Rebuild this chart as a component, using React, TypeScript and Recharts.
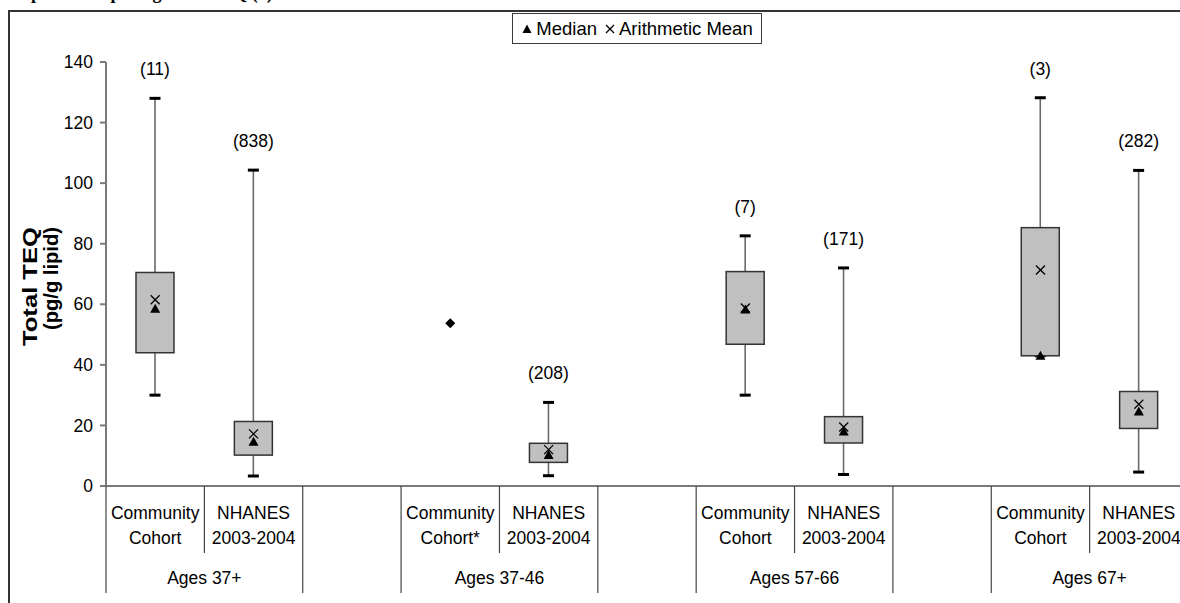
import React from 'react';
import { ComposedChart, Bar, Scatter, XAxis, YAxis, LabelList, Legend, Label } from 'recharts';

const FONT = 'Arial, "Liberation Sans", Helvetica, sans-serif';

// ---- data ----
const categories = [
  'Community\nCohort', 'NHANES\n2003-2004', '',
  'Community\nCohort*', 'NHANES\n2003-2004', '',
  'Community\nCohort', 'NHANES\n2003-2004', '',
  'Community\nCohort', 'NHANES\n2003-2004',
];
const groups = [
  'Ages 37+', 'Ages 37+', '',
  'Ages 37-46', 'Ages 37-46', '',
  'Ages 57-66', 'Ages 57-66', '',
  'Ages 67+', 'Ages 67+',
];
const minValues = [30, 3.3, null, null, 3.4, null, 30, 3.8, null, 43, 4.6];
const q1Values = [44, 10.2, null, null, 7.8, null, 46.8, 14.2, null, 43, 19];
const medianValues = [58.5, 14.6, null, null, 10.2, null, 58.3, 18, null, 43, 24.6];
const meanValues = [61.5, 17.2, null, null, 12, null, 58.8, 19.5, null, 71.3, 27];
const q3Values = [70.5, 21.3, null, null, 14.1, null, 70.8, 22.9, null, 85.3, 31.2];
const maxValues = [128, 104.3, null, null, 27.6, null, 82.6, 72, null, 128.2, 104.2];
const singleValues = [null, null, null, 53.7, null, null, null, null, null, null, null];
const sampleSizes = ['(11)', '(838)', '', '', '(208)', '', '(7)', '(171)', '', '(3)', '(282)'];
const yTicks = [0, 20, 40, 60, 80, 100, 120, 140];
const legendOrder = ['Median', 'Arithmetic Mean'];

const data = categories.map((label, i) => ({
  label,
  group: groups[i],
  min: minValues[i],
  q1: q1Values[i],
  median: medianValues[i],
  mean: meanValues[i],
  q3: q3Values[i],
  max: maxValues[i],
  single: singleValues[i],
  n: sampleSizes[i],
}));

const whiskerRange = (d: any) => (d.min == null ? null : [d.min, d.max]);
const boxRange = (d: any) => (d.q1 == null ? null : [d.q1, d.q3]);

const ok = (v: any) => typeof v === 'number' && isFinite(v);

const WhiskerShape = (props: any) => {
  const { x, y, width, height, payload } = props;
  if (!payload || payload.min == null || !ok(x) || !ok(y) || !ok(height)) return <g />;
  const cx = x + width / 2;
  const top = Math.min(y, y + height);
  const bottom = Math.max(y, y + height);
  return (
    <g>
      <line x1={cx} x2={cx} y1={top} y2={bottom} stroke="#6a6a6a" strokeWidth={1.6} />
      <rect x={cx - 5.5} y={top - 1.5} width={11} height={3} fill="#000" />
      <rect x={cx - 5.5} y={bottom - 1.5} width={11} height={3} fill="#000" />
    </g>
  );
};

const BoxShape = (props: any) => {
  const { x, y, width, height, payload } = props;
  if (!payload || payload.q1 == null || !ok(x) || !ok(y) || !ok(height)) return <g />;
  const top = Math.min(y, y + height);
  const h = Math.abs(height);
  return <rect x={x} y={top} width={width} height={h} fill="#c0c0c0" stroke="#333" strokeWidth={1.5} />;
};

const MedianShape = (props: any) => {
  const { cx, cy, payload } = props;
  if (!payload || payload.median == null || !ok(cx) || !ok(cy)) return <g />;
  return <polygon points={`${cx},${cy - 5} ${cx + 5},${cy + 4} ${cx - 5},${cy + 4}`} fill="#000" />;
};

const MeanShape = (props: any) => {
  const { cx, cy, payload } = props;
  if (!payload || payload.mean == null || !ok(cx) || !ok(cy)) return <g />;
  const s = 4.5;
  return (
    <g stroke="#000" strokeWidth={1.3}>
      <line x1={cx - s} y1={cy - s} x2={cx + s} y2={cy + s} />
      <line x1={cx - s} y1={cy + s} x2={cx + s} y2={cy - s} />
    </g>
  );
};

const DiamondShape = (props: any) => {
  const { cx, cy, payload } = props;
  if (!payload || payload.single == null || !ok(cx) || !ok(cy)) return <g />;
  return <polygon points={`${cx},${cy - 5} ${cx + 5},${cy} ${cx},${cy + 5} ${cx - 5},${cy}`} fill="#000" />;
};

const CategoryTick = (props: any) => {
  const { x, y, payload, width } = props;
  const i = payload.index ?? props.index;
  const half = ok(payload.offset) && payload.offset > 0 ? payload.offset : width / categories.length / 2;
  const lines = (categories[i] || '').split('\n').filter((t) => t !== '');
  const left = x - half;
  const right = x + half;
  const sameAsPrev = i > 0 && groups[i] !== '' && groups[i] === groups[i - 1];
  const isLast = i === categories.length - 1;
  const isGroupStart = groups[i] !== '' && (i === 0 || groups[i - 1] !== groups[i]);
  let span = 0;
  if (isGroupStart) {
    let j = i;
    while (j < groups.length && groups[j] === groups[i]) { span++; j++; }
  }
  const lineColor = '#444';
  return (
    <g>
      <line x1={left} x2={left} y1={y} y2={y + (sameAsPrev ? 67 : 107)} stroke={lineColor} strokeWidth={1.2} />
      {isLast && <line x1={right} x2={right} y1={y} y2={y + 107} stroke={lineColor} strokeWidth={1.2} />}
      {lines.map((t, k) => (
        <text key={k} x={x} y={y + 27 + 25 * k} dy="0.35em" textAnchor="middle" fill="#000" fontSize={17.5} fontFamily={FONT}>
          {t}
        </text>
      ))}
      {isGroupStart && (
        <text x={left + span * half} y={y + 92} dy="0.35em" textAnchor="middle" fill="#000" fontSize={17.5} fontFamily={FONT}>
          {groups[i]}
        </text>
      )}
    </g>
  );
};

const YLabel = (props: any) => {
  const vb = props.viewBox || { x: 46, y: 62 };
  const endY = vb.y + 165;
  const x1 = vb.x - 9;
  const x2 = vb.x + 12;
  return (
    <g fontFamily={FONT} fontWeight="bold" fontSize={20} fill="#000">
      <text x={x1} y={endY} transform={`rotate(-90 ${x1} ${endY})`} textAnchor="end" textLength={119} lengthAdjust="spacingAndGlyphs">
        Total TEQ
      </text>
      <text x={x2} y={endY} transform={`rotate(-90 ${x2} ${endY})`} textAnchor="end" textLength={103} lengthAdjust="spacingAndGlyphs">
        (pg/g lipid)
      </text>
    </g>
  );
};

const LegendBox = (props: any) => {
  const items = (props.payload || [])
    .filter((p: any) => legendOrder.includes(p.value))
    .sort((a: any, b: any) => legendOrder.indexOf(a.value) - legendOrder.indexOf(b.value));
  return (
    <div
      style={{
        boxSizing: 'border-box', width: 250, height: 31, border: '1.5px solid #3a3a3a', background: '#fff',
        display: 'flex', alignItems: 'center', justifyContent: 'center', fontFamily: FONT, fontSize: 18.5,
        color: '#000', whiteSpace: 'nowrap',
      }}
    >
      {items.map((item: any, k: number) => (
        <span key={item.value} style={{ display: 'inline-flex', alignItems: 'center', marginLeft: k === 0 ? 0 : 7 }}>
          <svg width={12} height={12} style={{ marginRight: 3 }}>
            {item.value === 'Median' ? (
              <polygon points="6,1.5 10.5,10 1.5,10" fill="#000" />
            ) : (
              <g stroke="#000" strokeWidth={1.2}>
                <line x1={2} y1={2} x2={10} y2={10} />
                <line x1={2} y1={10} x2={10} y2={2} />
              </g>
            )}
          </svg>
          <span>{item.value}</span>
        </span>
      ))}
    </div>
  );
};

export default function App() {
  return (
    <div style={{ position: 'fixed', left: 0, top: 0, width: 1180, height: 603, overflow: 'hidden', background: '#fff' }}>
      <div
        style={{
          position: 'absolute', left: 0, top: -16, fontFamily: '"Times New Roman", "Liberation Serif", serif',
          fontWeight: 'bold', fontSize: 18, lineHeight: '18px', whiteSpace: 'nowrap', color: '#000',
        }}
      >
        Graph 1. Comparing Total TEQ (1)
      </div>
      <div
        style={{
          position: 'absolute', left: 8, top: 10, width: 1400, height: 800, border: '2px solid #333', boxSizing: 'border-box',
        }}
      />
      <div style={{ position: 'absolute', left: 0, top: 0 }}>
        <ComposedChart
          width={1200}
          height={603}
          data={data}
          margin={{ top: 62, right: 12, bottom: 7, left: 46 }}
          style={{ fontFamily: FONT }}
        >
          <XAxis
            dataKey="label"
            xAxisId={0}
            type="category"
            allowDuplicatedCategory
            interval={0}
            height={110}
            tickSize={0}
            tickMargin={0}
            tickLine={false}
            axisLine={{ stroke: '#7a7a7a', strokeWidth: 2 }}
            tick={<CategoryTick />}
          />
          <XAxis dataKey="label" xAxisId="box" type="category" allowDuplicatedCategory hide />
          <YAxis
            type="number"
            domain={[0, 140]}
            ticks={yTicks}
            interval={0}
            width={60}
            tickSize={6}
            tickMargin={7}
            axisLine={{ stroke: '#7a7a7a', strokeWidth: 2 }}
            tickLine={{ stroke: '#7a7a7a', strokeWidth: 2 }}
            tick={{ fill: '#000', fontSize: 17.5, fontFamily: FONT }}
          >
            <Label content={<YLabel />} />
          </YAxis>
          <Legend
            layout="horizontal"
            verticalAlign="middle"
            align="center"
            content={<LegendBox />}
            wrapperStyle={{ left: 512, top: 13, width: 250, height: 31 }}
          />
          <Bar
            dataKey={whiskerRange}
            xAxisId={0}
            barSize={38}
            shape={<WhiskerShape />}
            legendType="none"
            isAnimationActive={false}
          >
            <LabelList dataKey="n" position="top" offset={23} fill="#000" fontSize={17.5} fontFamily={FONT} />
          </Bar>
          <Bar
            dataKey={boxRange}
            xAxisId="box"
            barSize={38}
            shape={<BoxShape />}
            legendType="none"
            isAnimationActive={false}
          />
          <Scatter dataKey="single" xAxisId={0} shape={<DiamondShape />} legendType="none" isAnimationActive={false} />
          <Scatter dataKey="median" name="Median" xAxisId={0} shape={<MedianShape />} isAnimationActive={false} />
          <Scatter dataKey="mean" name="Arithmetic Mean" xAxisId={0} shape={<MeanShape />} isAnimationActive={false} />
        </ComposedChart>
      </div>
    </div>
  );
}
